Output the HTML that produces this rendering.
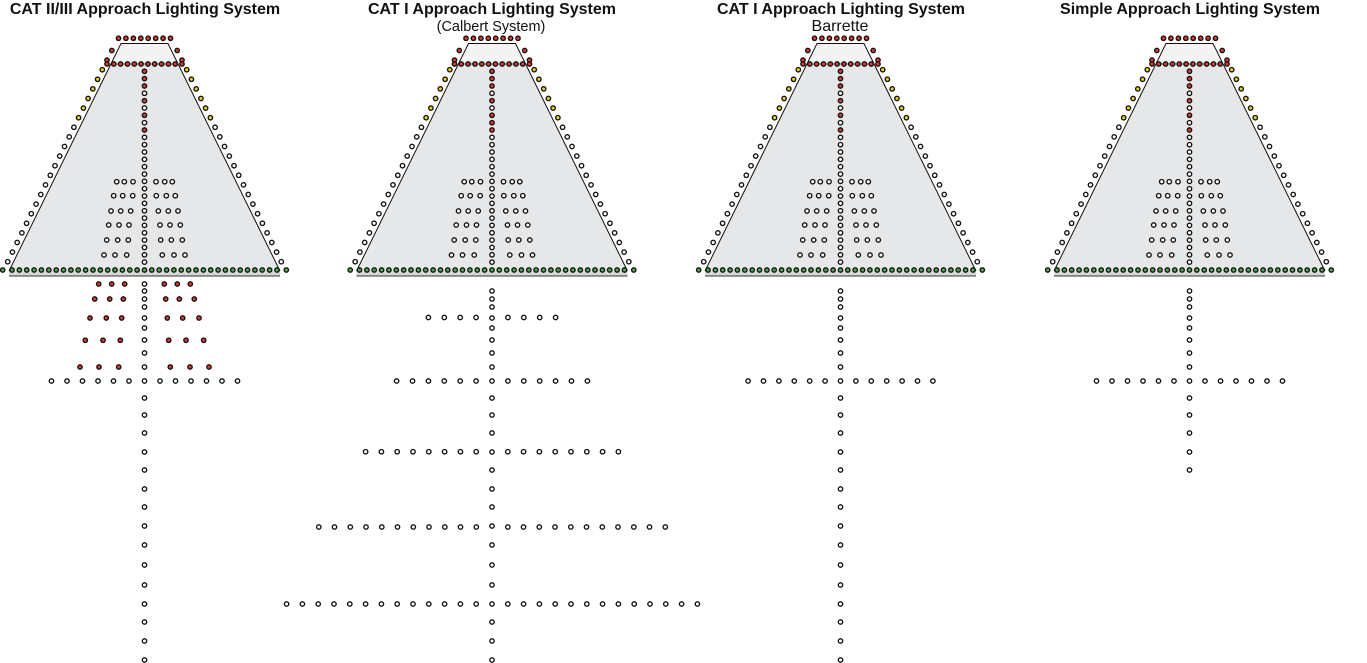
<!DOCTYPE html>
<html><head><meta charset="utf-8"><style>
html,body{margin:0;padding:0;background:#fff;width:1367px;height:663px;overflow:hidden}
svg{display:block}
.t{font-family:"Liberation Sans",Arial,sans-serif;font-weight:bold;font-size:16px;fill:#111}
.s{font-family:"Liberation Sans",Arial,sans-serif;font-size:14.5px;fill:#111}
</style></head><body>
<svg id="sv" width="1367" height="663" viewBox="0 0 1367 663" xmlns="http://www.w3.org/2000/svg">
<text class="t" x="145" y="14" text-anchor="middle">CAT II/III Approach Lighting System</text>
<text class="t" x="492" y="14" text-anchor="middle">CAT I Approach Lighting System</text>
<text class="s" x="491" y="31" text-anchor="middle">(Calbert System)</text>
<text class="t" x="841" y="14" text-anchor="middle">CAT I Approach Lighting System</text>
<text class="s" x="840" y="31" text-anchor="middle" style="font-size:16px">Barrette</text>
<text class="t" x="1190" y="14" text-anchor="middle">Simple Approach Lighting System</text>
<g id="g"></g>
</svg>
<script>
var g=document.getElementById('g');var out='';
var R='#e0392c',Y='#f3d410',G='#4fae4f',W='#ffffff';
function dot(x,y,c){out+='<circle cx="'+x.toFixed(1)+'" cy="'+y.toFixed(1)+'" r="2.2" fill="'+c+'" stroke="#111" stroke-width="1.35"/>';}
var CL=[284,291,299,307,318,328,340,353,367,381,398,415,433,452,470,489,507,526,545,565,585,604,622,641,660];
function bar(c,y,n,s){for(var k=1;k<=n;k++){dot(c-k*s,y,W);dot(c+k*s,y,W);}}
function panel(c,reds){
 out+='<polygon points="'+(c-23.5)+',43.5 '+(c+23.5)+',43.5 '+(c+135.5)+',271 '+(c-135.5)+',271" fill="#e6e7e8" stroke="none"/>';
 out+='<polygon points="'+(c-23.5)+',43.5 '+(c+23.5)+',43.5 '+(c+33.8)+',64 '+(c-33.8)+',64" fill="#f3f3f3" stroke="none"/>';
 out+='<rect x="'+(c-135.5)+'" y="271" width="271" height="5" fill="#d6d7d8" stroke="none"/>';
 out+='<polyline points="'+(c-135.5)+',271 '+(c-23.5)+',43.5 '+(c+23.5)+',43.5 '+(c+135.5)+',271" fill="none" stroke="#111" stroke-width="1"/>';
 out+='<line x1="'+(c-135.5)+'" y1="276" x2="'+(c+135.5)+'" y2="276" stroke="#333" stroke-width="1"/>';
 out+='<line x1="'+(c-34)+'" y1="64" x2="'+(c+34)+'" y2="64" stroke="#333" stroke-width="0.8"/>';
 for(var i=0;i<8;i++)dot(c-26+i*7.43,38.3,R);
 for(var i=-2;i<=20;i++){var x=4.73*i+42.2,y=69.7+9.6*i;var col=i<0?R:(i<=5?Y:W);dot(c-x,y,col);dot(c+x,y,col);}
 for(var i=0;i<12;i++)dot(c-37.5+i*6.82,64,R);
 for(var i=0;i<27;i++){var col=reds.indexOf(i)>=0?R:W;dot(c,71.3+i*7.34,col);}
 var rows=[[181.7,[27.8,20.2,11.5]],[195.7,[30.8,21.8,11.8]],[211,[33.5,23.8,13.8]],[225,[35.8,25.5,15.5]],[240,[37.8,26.8,16.2]],[255,[40.5,29.5,17.8]]];
 rows.forEach(function(r){r[1].forEach(function(o){dot(c-o,r[0],W);dot(c+o,r[0],W);});});
 for(var i=0;i<37;i++)dot(c-132.5+i*7.36,270,G);
 dot(c-141.8,270,G);dot(c+141.8,270,G);
}
var c1=144.5;panel(c1,[0,1,2,4,6,8]);
CL.forEach(function(y){dot(c1,y,W);});
var rr=[[284,[45.8,32.8,19.8]],[299,[49.8,34.8,21.2]],[318,[54.5,38.2,22.8]],[340.3,[59.2,41.5,24.2]],[367,[64.5,45.5,25.8]]];
rr.forEach(function(r){r[1].forEach(function(o){dot(c1-o,r[0],R);dot(c1+o,r[0],R);});});
bar(c1,381,6,15.5);
var c2=492;panel(c2,[0,1,2,4,6,7,8]);
CL.slice(1).forEach(function(y){dot(c2,y,W);});
bar(c2,317.5,4,15.9);bar(c2,381,6,15.9);bar(c2,451.7,8,15.8);bar(c2,527,11,15.75);bar(c2,604,13,15.8);
var c3=840.5;panel(c3,[0,1,2,4,6,8]);
CL.slice(1).forEach(function(y){dot(c3,y,W);});
bar(c3,381,6,15.4);
var c4=1189.5;panel(c4,[0,1,2,4,6,8]);
CL.slice(1,15).forEach(function(y){dot(c4,y,W);});
bar(c4,381,6,15.5);
g.innerHTML=out;
</script>
</body></html>
